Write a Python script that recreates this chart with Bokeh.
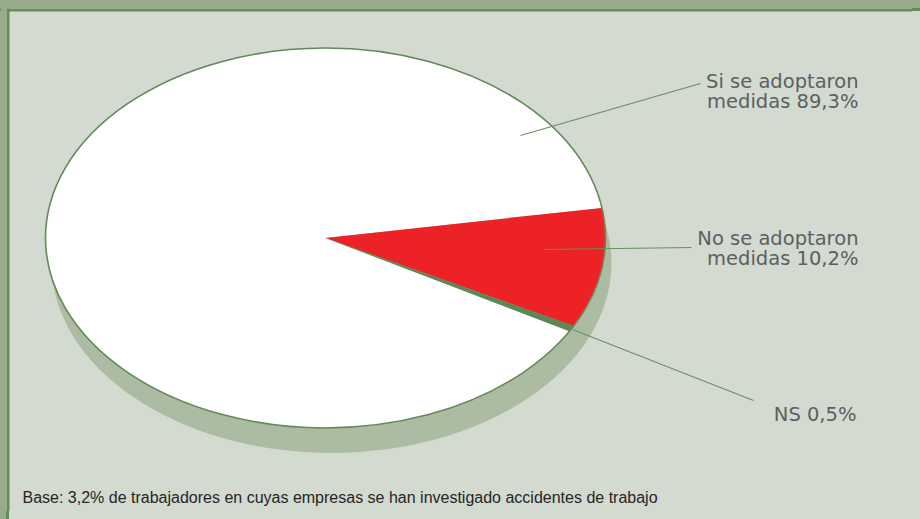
import numpy as np
from bokeh.plotting import figure
from bokeh.models import Range1d, BoxAnnotation
from bokeh.core.properties import value
from bokeh.embed import file_html
from bokeh.resources import INLINE

# ---- data ----
categories = ["Si se adoptaron medidas", "No se adoptaron medidas", "NS"]
label_texts = ["Si se adoptaron\nmedidas 89,3%", "No se adoptaron\nmedidas 10,2%", "NS 0,5%"]
percent = [89.3, 10.2, 0.5]
colors = ["#FFFFFF", "#EC2227", "#5E8756"]

# ---- layout (screen pixels, figure at top-left) ----
CX, CY, RX, RY = 325.0, 237.5, 280.0, 190.0
FX0, FY0, FX1, FY1 = 6, 8, 912, 511
START_DEG = -29.4          # first slice starts here, runs clockwise
SHADOW_DX, SHADOW_DY = 6, 25
PANEL = "#D3DACF"
OUTER = "#98AC8C"
EDGE = "#658A5C"

def dx(px):
    return (px - CX) / RX

def dy(py):
    return (CY - py) / RY

p = figure(width=912, height=511, output_backend="svg", toolbar_location=None,
           tools="", x_axis_location=None, y_axis_location=None,
           x_range=Range1d(dx(FX0), dx(FX1)), y_range=Range1d(dy(FY1), dy(FY0)),
           min_border=0, min_border_left=FX0, min_border_top=FY0,
           border_fill_color=OUTER, background_fill_color=PANEL)
p.grid.visible = False
p.outline_line_color = None

# dark frame edges of the panel
p.add_layout(BoxAnnotation(left=dx(6), right=dx(9), fill_color=EDGE,
                           fill_alpha=1, line_color=None, level="underlay"))
p.add_layout(BoxAnnotation(top=dy(8), bottom=dy(11), fill_color=EDGE,
                           fill_alpha=1, line_color=None, level="underlay"))

# shadow / depth
p.ellipse(x=SHADOW_DX / RX, y=-SHADOW_DY / RY, width=2, height=2,
          fill_color="#ABBCA3", line_color=None)

# slices
total = sum(percent)
xs, ys = [], []
a = np.radians(START_DEG)
for v in percent:
    span = 2 * np.pi * v / total
    t = np.linspace(a, a - span, max(4, int(v * 4)))
    xs.append([0.0] + list(np.cos(t)))
    ys.append([0.0] + list(np.sin(t)))
    a -= span
p.patches(xs, ys, fill_color=colors, line_color=None)

# outer outline
p.ellipse(x=0, y=0, width=2, height=2, fill_color=None,
          line_color="#628A58", line_width=1.6)

# leader lines (layout anchors, px)
leaders = [((520, 135), (700, 83)), ((544, 249), (691, 247)), ((572, 329), (753, 400))]
p.multi_line([[dx(a[0]), dx(b[0])] for a, b in leaders],
             [[dy(a[1]), dy(b[1])] for a, b in leaders],
             line_color="#6B8F62", line_width=1.1)

# labels
label_pos = [(858, 91), (858, 248), (856, 414)]
p.text(x=[dx(q[0]) for q in label_pos], y=[dy(q[1]) for q in label_pos],
       text=label_texts, text_align="right", text_baseline="middle",
       text_font=value("DejaVu Sans"), text_font_size="19.5px",
       text_color="#5C6062", text_line_height=0.9)

# footnote
p.text(x=[dx(22)], y=[dy(497)],
       text=["Base: 3,2% de trabajadores en cuyas empresas se han investigado accidentes de trabajo"],
       text_align="left", text_baseline="middle",
       text_font=value("Liberation Sans"), text_font_size="16px", text_color="#262626")

css = ("body{background-color:%s;background-image:"
       "linear-gradient(to bottom,%s 0,%s 8px,%s 8px,%s 11px,transparent 11px),"
       "linear-gradient(to right,%s 0,%s 6px,%s 6px,%s 9px,transparent 9px);"
       "background-repeat:no-repeat;min-height:519px;}"
       % (PANEL, OUTER, OUTER, EDGE, EDGE, OUTER, OUTER, EDGE, EDGE))
html = file_html(p, INLINE)
html = html.replace("<head>", "<head><style>%s</style>" % css, 1)
open("out.html", "w").write(html)
